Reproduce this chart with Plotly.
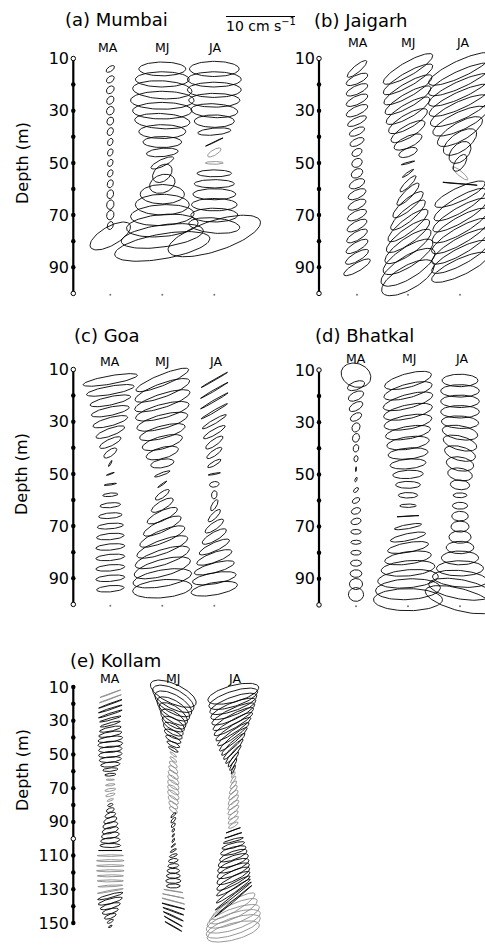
import numpy as np
import plotly.graph_objects as go

# ---------------------------------------------------------------- data
# Tidal-current ellipses: depth (m), semi-major, semi-minor (cm/s), inclination (deg)
# (a) Mumbai
A_MA_DEPTH = [14, 18, 22, 26, 30, 34, 38, 42, 46, 50, 54, 58, 62, 66, 70, 74, 78]
A_MA_MAJ = [0.7, 0.65, 0.65, 0.65, 0.65, 0.6, 0.6, 0.55, 0.55, 0.55, 0.55, 0.6, 0.65, 0.7, 0.7, 0.6, 3.3]
A_MA_MIN = [0.35, 0.42, 0.47, 0.47, 0.52, 0.47, 0.42, 0.37, 0.37, 0.37, 0.37, 0.42, 0.47, 0.52, 0.52, 0.42, 1.35]
A_MA_INC = [35, 40, 45, 55, 60, 65, 65, 65, 65, 65, 65, 70, 75, 75, 75, 70, 30]

A_MJ_DEPTH = [14, 18, 22, 26, 30, 34, 38, 42, 46, 50, 54, 58, 62, 66, 70, 74, 78, 82]
A_MJ_MAJ = [3.4, 3.9, 4.3, 4.6, 4.3, 4.0, 3.4, 2.8, 2.3, 1.8, 1.6, 1.9, 3.2, 3.9, 4.6, 5.2, 6.0, 7.0]
A_MJ_MIN = [1.0, 1.1, 1.3, 1.3, 1.2, 1.1, 1.0, 0.8, 0.6, 0.5, 1.1, 1.3, 1.4, 1.5, 1.5, 1.6, 1.6, 1.8]
A_MJ_INC = [0, 0, -3, 0, 0, -3, 0, 0, 5, 25, 40, 20, 0, 0, 3, 5, 8, 10]

A_JA_DEPTH = [14, 18, 22, 26, 30, 34, 38, 42, 46, 50, 54, 58, 62, 66, 70, 74, 78]
A_JA_MAJ = [3.6, 3.9, 3.9, 3.7, 3.4, 2.9, 2.4, 1.4, 1.1, 1.3, 2.5, 2.9, 3.1, 3.3, 3.4, 3.7, 7.0]
A_JA_MIN = [1.1, 1.1, 1.1, 1.0, 1.0, 0.9, 0.5, 0.05, 0.4, 0.2, 0.5, 0.6, 0.8, 0.9, 1.0, 1.1, 2.2]
A_JA_INC = [0, 0, 0, 0, -3, 0, 5, 25, 30, 0, 0, 0, 0, 0, 0, -5, 18]
A_JA_GRAY = [0, 0, 0, 0, 0, 0, 0, 0, 1, 1, 0, 0, 0, 0, 0, 0, 0]

# (b) Jaigarh
B_MA_DEPTH = [14, 18, 22, 26, 30, 34, 38, 42, 46, 50, 54, 58, 62, 66, 70, 74, 78, 82, 86, 90]
B_MA_MAJ = [1.8, 1.7, 1.7, 1.7, 1.7, 1.5, 1.2, 1.1, 0.8, 0.8, 0.9, 1.2, 1.4, 1.4, 1.5, 1.6, 1.7, 1.8, 1.9, 2.2]
B_MA_MIN = [0.5, 0.6, 0.6, 0.6, 0.6, 0.5, 0.5, 0.5, 0.5, 0.6, 0.6, 0.6, 0.6, 0.6, 0.6, 0.6, 0.6, 0.6, 0.6, 0.6]
B_MA_INC = [40, 25, 25, 25, 25, 25, 25, 25, 30, 30, 30, 25, 25, 25, 25, 28, 30, 30, 30, 30]

B_MJ_DEPTH = [14, 18, 22, 26, 30, 34, 38, 42, 46, 50, 54, 58, 62, 66, 70, 74, 78, 82, 86, 90, 94]
B_MJ_MAJ = [4.1, 4.1, 4.0, 3.8, 3.6, 3.2, 2.8, 2.2, 1.4, 1.0, 1.0, 1.6, 2.2, 2.8, 3.2, 3.6, 3.8, 4.0, 4.2, 4.5, 4.3]
B_MJ_MIN = [1.0, 1.0, 1.0, 1.0, 1.0, 1.0, 0.9, 0.8, 0.6, 0.1, 0.15, 0.4, 0.6, 0.8, 0.9, 1.0, 1.1, 1.2, 1.4, 1.6, 1.7]
B_MJ_INC = [30, 30, 30, 30, 30, 30, 30, 25, 20, 15, 35, 45, 45, 40, 40, 38, 36, 35, 33, 32, 30]

B_JA_DEPTH = [14, 18, 22, 26, 30, 34, 38, 42, 46, 50, 54, 58, 62, 66, 70, 74, 78, 82, 86, 90]
B_JA_MAJ = [5.0, 5.0, 5.0, 4.9, 4.7, 4.3, 3.7, 2.8, 1.9, 1.4, 1.45, 2.5, 4.0, 4.3, 4.5, 4.6, 4.7, 4.7, 4.6, 4.5]
B_JA_MIN = [1.2, 1.2, 1.2, 1.2, 1.3, 1.3, 1.3, 1.3, 1.2, 0.7, 0.35, 0.05, 1.0, 1.1, 1.1, 1.2, 1.2, 1.2, 1.2, 1.2]
B_JA_INC = [25, 25, 25, 25, 25, 25, 30, 35, 45, 55, -40, -5, 25, 30, 30, 30, 30, 30, 28, 25]
B_JA_GRAY = [0, 0, 0, 0, 0, 0, 0, 0, 0, 0, 1, 0, 0, 0, 0, 0, 0, 0, 0, 0]

# (c) Goa
C_MA_DEPTH = [14, 18, 22, 26, 30, 34, 38, 42, 46, 50, 54, 58, 62, 66, 70, 74, 78, 82, 86, 90, 94]
C_MA_MAJ = [4.0, 3.5, 3.0, 2.8, 2.6, 2.2, 1.7, 1.1, 0.5, 0.6, 0.9, 1.1, 1.5, 1.7, 1.9, 2.0, 2.1, 2.1, 2.1, 2.1, 2.0]
C_MA_MIN = [0.6, 0.6, 0.6, 0.6, 0.6, 0.55, 0.5, 0.45, 0.1, 0.08, 0.1, 0.25, 0.35, 0.4, 0.4, 0.45, 0.45, 0.45, 0.45, 0.45, 0.45]
C_MA_INC = [10, 10, 12, 12, 15, 20, 25, 35, 60, 20, 8, 5, 5, 5, 5, 5, 5, 5, 5, 5, 5]

C_MJ_DEPTH = [14, 18, 22, 26, 30, 34, 38, 42, 46, 50, 54, 58, 62, 66, 70, 74, 78, 82, 86, 90, 94]
C_MJ_MAJ = [4.1, 4.2, 4.2, 4.0, 3.8, 3.4, 3.0, 2.4, 1.7, 1.2, 0.8, 1.2, 1.8, 2.4, 3.0, 3.5, 3.9, 4.1, 4.2, 4.3, 4.3]
C_MJ_MIN = [0.8, 1.0, 1.0, 1.0, 1.0, 0.9, 0.9, 0.8, 0.6, 0.2, 0.1, 0.4, 0.6, 0.7, 0.8, 0.9, 1.0, 1.1, 1.2, 1.2, 1.3]
C_MJ_INC = [22, 20, 18, 15, 15, 15, 15, 15, 10, 20, 35, 35, 30, 25, 25, 22, 20, 18, 15, 10, 5]

C_JA_DEPTH = [14, 18, 22, 26, 30, 34, 38, 42, 46, 50, 54, 58, 62, 66, 70, 74, 78, 82, 86, 90, 94]
C_JA_MAJ = [2.2, 2.3, 2.3, 2.2, 2.0, 1.8, 1.5, 1.3, 1.1, 0.9, 0.7, 0.6, 0.9, 1.2, 1.6, 2.0, 2.4, 2.7, 3.0, 3.2, 3.4]
C_JA_MIN = [0.08, 0.1, 0.12, 0.15, 0.3, 0.4, 0.45, 0.4, 0.3, 0.1, 0.4, 0.4, 0.35, 0.4, 0.5, 0.6, 0.6, 0.7, 0.7, 0.8, 0.9]
C_JA_INC = [30, 30, 30, 30, 30, 30, 35, 35, 30, 10, 10, 80, 60, 45, 35, 30, 25, 20, 15, 10, 10]

# (d) Bhatkal
D_MA_DEPTH = [12, 16, 20, 24, 28, 32, 36, 40, 44, 48, 52, 56, 60, 64, 68, 72, 76, 80, 84, 88, 92, 96]
D_MA_MAJ = [2.2, 1.3, 1.2, 1.1, 0.9, 0.7, 0.65, 0.55, 0.45, 0.35, 0.35, 0.45, 0.6, 0.7, 0.75, 0.75, 0.75, 0.75, 0.8, 0.85, 0.95, 1.1]
D_MA_MIN = [1.7, 0.6, 0.6, 0.55, 0.5, 0.55, 0.5, 0.4, 0.3, 0.08, 0.15, 0.25, 0.35, 0.45, 0.45, 0.35, 0.3, 0.35, 0.45, 0.55, 0.8, 1.0]
D_MA_INC = [-20, 20, 25, 30, 30, 60, 70, 75, 80, 85, 70, 45, 30, 20, 15, 0, 0, 0, 0, 0, 0, 0]

D_MJ_DEPTH = [14, 18, 22, 26, 30, 34, 38, 42, 46, 50, 54, 58, 62, 66, 70, 74, 78, 82, 86, 90, 94, 98]
D_MJ_MAJ = [3.5, 3.6, 3.7, 3.6, 3.5, 3.3, 3.1, 2.9, 2.6, 2.2, 1.8, 1.4, 1.2, 1.6, 2.0, 2.6, 3.0, 3.4, 3.9, 4.4, 4.7, 5.0]
D_MJ_MIN = [1.0, 1.0, 1.0, 1.0, 1.0, 0.9, 0.9, 0.8, 0.7, 0.6, 0.5, 0.4, 0.25, 0.04, 0.3, 0.5, 0.7, 0.9, 1.1, 1.3, 1.5, 1.6]
D_MJ_INC = [15, 15, 15, 12, 10, 10, 8, 5, 5, 3, 0, 0, 0, 3, 10, 12, 10, 8, 5, 5, 3, 0]

D_JA_DEPTH = [14, 18, 22, 26, 30, 34, 38, 42, 46, 50, 54, 58, 62, 66, 70, 74, 78, 82, 86, 90, 94, 98]
D_JA_MAJ = [2.6, 2.8, 2.8, 2.8, 2.7, 2.6, 2.5, 2.3, 2.0, 1.8, 1.4, 1.0, 1.1, 1.2, 1.3, 1.6, 2.0, 2.7, 3.4, 4.0, 4.6, 5.2]
D_JA_MIN = [0.9, 0.9, 0.9, 0.9, 0.9, 1.0, 1.0, 1.0, 1.0, 0.9, 0.7, 0.35, 0.5, 0.7, 0.8, 0.9, 0.9, 1.0, 1.1, 1.2, 1.4, 1.6]
D_JA_INC = [0, 0, 0, 0, -3, -10, -15, -15, -10, -10, -5, 0, 0, 0, 0, 0, 0, 0, 0, -5, -10, -15]

# (e) Kollam
E_MA_DEPTH = [14, 17, 20, 23, 26, 29, 32, 35, 38, 41, 44, 47, 50, 53, 56, 59, 62, 65, 68, 71, 74, 77, 80, 83,
              86, 89, 92, 95, 98, 101, 104, 107, 110, 113, 116, 119, 122, 125, 128, 131, 134, 137, 140, 143, 146, 149, 152]
E_MA_MAJ = [1.6, 1.7, 1.8, 1.8, 1.8, 1.6, 1.5, 1.6, 1.7, 1.8, 1.8, 1.7, 1.7, 1.6, 1.4, 1.1, 0.8, 0.6, 0.7, 0.8, 0.7, 0.5, 0.4, 0.6,
            0.8, 1.0, 1.1, 1.2, 1.3, 1.4, 1.5, 1.7, 1.9, 2.0, 2.0, 2.0, 1.9, 1.9, 1.8, 1.9, 1.9, 1.8, 1.5, 1.2, 0.9, 0.5, 0.3]
E_MA_MIN = [0.06, 0.06, 0.08, 0.1, 0.12, 0.15, 0.2, 0.3, 0.35, 0.4, 0.45, 0.45, 0.45, 0.4, 0.35, 0.25, 0.2, 0.1, 0.15, 0.2, 0.2, 0.15, 0.2, 0.3,
            0.35, 0.4, 0.45, 0.45, 0.45, 0.4, 0.3, 0.03, 0.12, 0.15, 0.15, 0.15, 0.15, 0.15, 0.12, 0.1, 0.25, 0.35, 0.35, 0.35, 0.3, 0.2, 0.12]
E_MA_INC = [20, 20, 20, 18, 18, 15, 15, 12, 10, 8, 5, 5, 5, 5, 5, 5, 5, 0, 5, 10, 15, 20, 20, 20,
            20, 20, 15, 15, 10, 5, 0, 0, 0, 0, 0, 0, 0, 0, 3, 10, 15, 15, 15, 15, 20, 30, 30]
E_MA_GRAY = [1, 1, 0, 0, 0, 0, 0, 0, 0, 0, 0, 0, 0, 0, 0, 0, 0, 1, 1, 1, 1, 1, 0, 0,
             0, 0, 0, 0, 0, 0, 0, 0, 1, 1, 1, 1, 1, 1, 1, 1, 0, 0, 0, 0, 0, 0, 0]

E_MJ_DEPTH = [14, 17, 20, 23, 26, 29, 32, 35, 38, 41, 44, 47, 50, 53, 56, 59, 62, 65, 68, 71, 74, 77, 80, 83,
              86, 89, 92, 95, 98, 101, 104, 107, 110, 113, 116, 119, 122, 125, 128, 131, 134, 137, 140, 143, 146, 149, 152]
E_MJ_MAJ = [3.6, 3.3, 3.0, 2.7, 2.4, 2.1, 1.8, 1.6, 1.4, 1.2, 1.0, 0.8, 0.6, 0.6, 0.7, 0.8, 0.9, 1.0, 1.0, 1.0, 1.0, 0.9, 0.8, 0.7,
            0.5, 0.5, 0.4, 0.3, 0.3, 0.35, 0.4, 0.5, 0.6, 0.7, 0.8, 0.9, 1.0, 1.1, 1.0, 1.4, 1.6, 1.7, 1.7, 1.6, 1.6, 1.5, 1.4]
E_MJ_MIN = [1.4, 1.4, 1.3, 1.2, 1.1, 1.0, 0.8, 0.7, 0.5, 0.4, 0.3, 0.2, 0.15, 0.2, 0.3, 0.35, 0.4, 0.4, 0.45, 0.45, 0.45, 0.4, 0.35, 0.3,
            0.15, 0.2, 0.2, 0.15, 0.1, 0.12, 0.1, 0.15, 0.2, 0.3, 0.3, 0.35, 0.35, 0.35, 0.3, 0.05, 0.05, 0.06, 0.06, 0.08, 0.08, 0.06, 0.06]
E_MJ_INC = [-25, -28, -30, -32, -35, -35, -30, -30, -25, -25, -25, -30, -40, -40, -40, -40, -40, -40, -40, -40, -40, -40, -40, -40,
            45, 50, 50, 60, 60, 60, 40, 30, 20, 10, 5, 0, 0, 0, 0, -10, -12, -15, -15, -20, -25, -30, -30]
E_MJ_GRAY = [0, 0, 0, 0, 0, 0, 0, 0, 0, 0, 0, 0, 1, 1, 1, 1, 1, 1, 1, 1, 1, 1, 1, 1,
             0, 0, 0, 0, 0, 0, 0, 0, 0, 0, 0, 0, 0, 0, 0, 1, 1, 1, 0, 0, 0, 0, 0]

E_JA_DEPTH = [14, 17, 20, 23, 26, 29, 32, 35, 38, 41, 44, 47, 50, 53, 56, 59, 62, 65, 68, 71, 74, 77, 80, 83,
              86, 89, 92, 95, 98, 101, 104, 107, 110, 113, 116, 119, 122, 125, 128, 131, 134, 137, 140, 143, 146, 149, 152, 155]
E_JA_MAJ = [3.8, 3.7, 3.6, 3.5, 3.4, 3.3, 3.2, 3.0, 2.8, 2.6, 2.3, 2.0, 1.7, 1.3, 1.0, 0.7, 0.5, 0.6, 0.7, 0.8, 0.9, 1.0, 1.0, 1.0,
            0.9, 0.9, 0.8, 1.1, 1.3, 1.5, 1.7, 1.9, 2.1, 2.3, 2.4, 2.5, 2.6, 2.7, 2.8, 3.0, 3.3, 3.5, 3.6, 3.8, 4.0, 4.1, 4.1, 3.9]
E_JA_MIN = [1.2, 1.1, 1.0, 0.9, 0.8, 0.7, 0.6, 0.55, 0.5, 0.45, 0.4, 0.35, 0.3, 0.25, 0.2, 0.15, 0.15, 0.2, 0.25, 0.3, 0.35, 0.35, 0.35, 0.35,
            0.3, 0.3, 0.25, 0.04, 0.05, 0.2, 0.35, 0.5, 0.6, 0.7, 0.7, 0.7, 0.7, 0.6, 0.4, 0.3, 0.15, 0.1, 0.8, 1.0, 1.1, 1.2, 1.2, 1.2]
E_JA_INC = [15, 18, 20, 22, 25, 28, 30, 33, 36, 40, 43, 46, 50, 55, 60, 65, 60, 55, 50, 50, 45, 45, 40, 40,
            40, 35, 30, 20, 18, 15, 15, 15, 20, 20, 20, 22, 25, 28, 30, 35, 38, 40, 30, 25, 20, 18, 18, 15]
E_JA_GRAY = [0, 0, 0, 0, 0, 0, 0, 0, 0, 0, 0, 0, 0, 0, 0, 0, 1, 1, 1, 1, 1, 1, 1, 1,
             1, 1, 1, 0, 0, 0, 0, 0, 0, 0, 0, 0, 0, 0, 0, 0, 0, 0, 1, 1, 1, 1, 1, 1]

COLUMN_NAMES = ["MA", "MJ", "JA"]
TICKS_100 = [10, 30, 50, 70, 90]
TICKS_150 = [10, 30, 50, 70, 90, 110, 130, 150]
SCALE_BAR = 10  # cm/s

# ---------------------------------------------------------------- layout (pixels)
W, H = 485, 947
PX_PER_CMS = 6.9
FONT = "DejaVu Sans"
BLACK = "#000000"
GRAY = "#8a8a8a"

PANELS = [
    dict(title="(a) Mumbai", title_xy=(63, 19), ax=73.3, xdom=(70, 310), ydom=(0, 305), d10=58.5, pxm=2.61,
         dmax=100, ticks=TICKS_100, colx=[37, 89, 141], lab_xy=[(108, 48), (162, 48), (214, 48)], depth_label=163,
         cols=[(A_MA_DEPTH, A_MA_MAJ, A_MA_MIN, A_MA_INC, None),
               (A_MJ_DEPTH, A_MJ_MAJ, A_MJ_MIN, A_MJ_INC, None),
               (A_JA_DEPTH, A_JA_MAJ, A_JA_MIN, A_JA_INC, A_JA_GRAY)]),
    dict(title="(b) Jaigarh", title_xy=(312, 20), ax=319, xdom=(316, 485), ydom=(0, 305), d10=58.5, pxm=2.61,
         dmax=100, ticks=TICKS_100, colx=[38, 89, 141], lab_xy=[(358, 43), (408, 43), (462, 43)], depth_label=None,
         cols=[(B_MA_DEPTH, B_MA_MAJ, B_MA_MIN, B_MA_INC, None),
               (B_MJ_DEPTH, B_MJ_MAJ, B_MJ_MIN, B_MJ_INC, None),
               (B_JA_DEPTH, B_JA_MAJ, B_JA_MIN, B_JA_INC, B_JA_GRAY)]),
    dict(title="(c) Goa", title_xy=(72, 336), ax=73.3, xdom=(70, 310), ydom=(310, 625), d10=369.5, pxm=2.61,
         dmax=100, ticks=TICKS_100, colx=[37, 89, 141], lab_xy=[(110, 361), (162, 361), (215, 361)], depth_label=474,
         cols=[(C_MA_DEPTH, C_MA_MAJ, C_MA_MIN, C_MA_INC, None),
               (C_MJ_DEPTH, C_MJ_MAJ, C_MJ_MIN, C_MJ_INC, None),
               (C_JA_DEPTH, C_JA_MAJ, C_JA_MIN, C_JA_INC, None)]),
    dict(title="(d) Bhatkal", title_xy=(313, 335), ax=319, xdom=(316, 485), ydom=(310, 625), d10=370, pxm=2.61,
         dmax=100, ticks=TICKS_100, colx=[37, 89, 141], lab_xy=[(356, 358), (409, 358), (461, 358)], depth_label=None,
         cols=[(D_MA_DEPTH, D_MA_MAJ, D_MA_MIN, D_MA_INC, None),
               (D_MJ_DEPTH, D_MJ_MAJ, D_MJ_MIN, D_MJ_INC, None),
               (D_JA_DEPTH, D_JA_MAJ, D_JA_MIN, D_JA_INC, None)]),
    dict(title="(e) Kollam", title_xy=(68, 660), ax=73.3, xdom=(70, 310), ydom=(635, 947), d10=687, pxm=1.686,
         dmax=150, ticks=TICKS_150, colx=[37, 100, 160], lab_xy=[(110, 678), (173, 678), (234, 678)], depth_label=770,
         cols=[(E_MA_DEPTH, E_MA_MAJ, E_MA_MIN, E_MA_INC, E_MA_GRAY),
               (E_MJ_DEPTH, E_MJ_MAJ, E_MJ_MIN, E_MJ_INC, E_MJ_GRAY),
               (E_JA_DEPTH, E_JA_MAJ, E_JA_MIN, E_JA_INC, E_JA_GRAY)]),
]

fig = go.Figure()
annotations = []
T = np.linspace(0, 2 * np.pi, 81)


def ellipse(xc, d, a, b, inc, k):
    th = np.deg2rad(inc)
    u = a * np.cos(T) * np.cos(th) - b * np.sin(T) * np.sin(th)
    v = a * np.cos(T) * np.sin(th) + b * np.sin(T) * np.cos(th)
    return xc + u, d - v * k


for i, p in enumerate(PANELS):
    n = "" if i == 0 else str(i + 1)
    xa, ya = "x" + n, "y" + n
    k = PX_PER_CMS / p["pxm"]  # metres of depth per cm/s drawn
    ax = p["ax"]
    x0, x1 = p["xdom"]
    y0, y1 = p["ydom"]

    def d_at(py, p=p):
        return 10 + (py - p["d10"]) / p["pxm"]

    fig.layout["xaxis" + n] = dict(domain=[x0 / W, x1 / W], range=[(x0 - ax) / PX_PER_CMS, (x1 - ax) / PX_PER_CMS],
                                   visible=False, fixedrange=True, anchor=ya)
    fig.layout["yaxis" + n] = dict(domain=[1 - y1 / H, 1 - y0 / H], range=[d_at(y1), d_at(y0)], anchor=xa,
                                   tickvals=p["ticks"], ticktext=[str(t) for t in p["ticks"]], ticks="",
                                   showgrid=False, zeroline=False, showline=False, fixedrange=True,
                                   tickfont=dict(family=FONT, size=16, color=BLACK))

    # ellipses
    for (dep, maj, mino, inc, gray), off in zip(p["cols"], p["colx"]):
        xc = off / PX_PER_CMS
        seg = {0: ([], []), 1: ([], [])}
        for j in range(len(dep)):
            g = gray[j] if gray is not None else 0
            ex, ey = ellipse(xc, dep[j], maj[j], mino[j], inc[j], k)
            seg[g][0].extend(list(ex) + [None])
            seg[g][1].extend(list(ey) + [None])
        for g, col in ((1, GRAY), (0, BLACK)):
            if seg[g][0]:
                fig.add_trace(go.Scatter(x=seg[g][0], y=seg[g][1], mode="lines", xaxis=xa, yaxis=ya,
                                         line=dict(color=col, width=0.9), hoverinfo="skip", showlegend=False))

    # depth axis line and tick dots
    dmax = p["dmax"]
    fig.add_trace(go.Scatter(x=[0, 0], y=[10, dmax], mode="lines", xaxis=xa, yaxis=ya,
                             line=dict(color=BLACK, width=2.2), hoverinfo="skip", showlegend=False))
    tick_d = list(range(10, dmax + 1, 10))
    open_d = [10, 100] if dmax == 100 else [100]
    fill_d = [t for t in tick_d if t not in open_d]
    fig.add_trace(go.Scatter(x=[0] * len(fill_d), y=fill_d, mode="markers", xaxis=xa, yaxis=ya, cliponaxis=False,
                             marker=dict(color=BLACK, size=4.5), hoverinfo="skip", showlegend=False))
    fig.add_trace(go.Scatter(x=[0] * len(open_d), y=open_d, mode="markers", xaxis=xa, yaxis=ya, cliponaxis=False,
                             marker=dict(color="white", size=4.5, line=dict(color=BLACK, width=1)),
                             hoverinfo="skip", showlegend=False))
    if dmax == 100:
        fig.add_trace(go.Scatter(x=[c / PX_PER_CMS for c in p["colx"]], y=[100.5] * 3, mode="markers", xaxis=xa,
                                 yaxis=ya, marker=dict(color="#777777", size=2), hoverinfo="skip", showlegend=False))

    # scale bar (panel a)
    if i == 0:
        bx0 = (226 - ax) / PX_PER_CMS
        fig.add_trace(go.Scatter(x=[bx0, bx0 + SCALE_BAR], y=[d_at(16.5)] * 2, mode="lines", xaxis=xa, yaxis=ya,
                                 line=dict(color=BLACK, width=1), hoverinfo="skip", showlegend=False))
        annotations.append(dict(x=261 / W, y=1 - 25 / H, xref="paper", yref="paper", showarrow=False,
                                text="10 cm s<sup>−1</sup>", font=dict(family=FONT, size=14, color=BLACK),
                                xanchor="center", yanchor="middle"))

    # texts
    tx, ty = p["title_xy"]
    annotations.append(dict(x=tx / W, y=1 - ty / H, xref="paper", yref="paper", showarrow=False, text=p["title"],
                            font=dict(family=FONT, size=18, color=BLACK), xanchor="left", yanchor="middle"))
    for name, (lx, ly) in zip(COLUMN_NAMES, p["lab_xy"]):
        annotations.append(dict(x=lx / W, y=1 - ly / H, xref="paper", yref="paper", showarrow=False, text=name,
                                font=dict(family=FONT, size=12.5, color=BLACK), xanchor="center", yanchor="middle"))
    if p["depth_label"] is not None:
        annotations.append(dict(x=22 / W, y=1 - p["depth_label"] / H, xref="paper", yref="paper", showarrow=False,
                                text="Depth (m)", textangle=-90, font=dict(family=FONT, size=16, color=BLACK),
                                xanchor="center", yanchor="middle"))

fig.update_layout(width=W, height=H, autosize=False, margin=dict(l=0, r=0, t=0, b=0),
                  paper_bgcolor="white", plot_bgcolor="rgba(0,0,0,0)", showlegend=False,
                  annotations=annotations)
fig.write_html("out.html")
